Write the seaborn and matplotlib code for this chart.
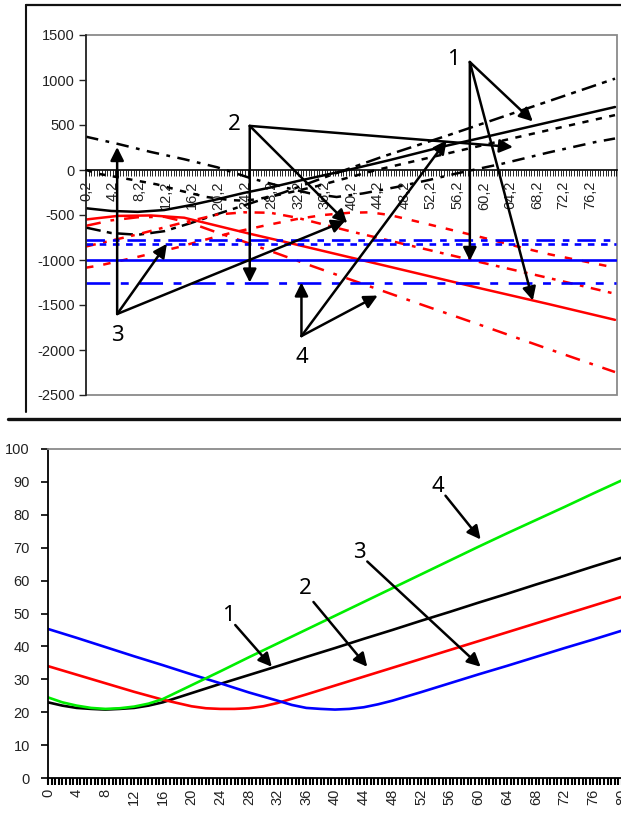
import numpy as np
import pandas as pd
import matplotlib
matplotlib.use("Agg")
import matplotlib.pyplot as plt
import seaborn as sns
from matplotlib.lines import Line2D
from matplotlib.patches import Rectangle
from matplotlib.ticker import FixedLocator, MultipleLocator

# ---------------- upper panel data ----------------
k1_x = [0.2, 5, 10, 15, 20, 25, 30, 34, 38, 42, 47, 52, 56, 63, 70, 77, 80]
k1_y = [370, 290, 200, 120, 30, -90, -190, -260, -300, -260, -190, -110, -40, 70, 195, 310, 350]

k2_x = [0.2, 4, 8, 12, 16, 20, 25, 30, 37, 45, 55, 65, 80]
k2_y = [-640, -700, -720, -680, -590, -490, -370, -250, -60, 150, 390, 640, 1015]

k3_x = [0.2, 2.3, 6.5, 10.9, 14.7, 18.4, 22, 24, 26, 30, 35, 44, 54.5, 65, 80]
k3_y = [0, -45, -100, -160, -235, -300, -335, -340, -325, -265, -180, 0, 180, 360, 610]

k4_x = [0.2, 4, 8, 12, 16, 20, 24, 28, 32, 36, 40, 46, 54.6, 60, 70, 80]
k4_y = [-425, -455, -465, -445, -390, -325, -255, -195, -125, -60, 5, 110, 270, 360, 530, 700]

r1_x = [0.2, 5, 10, 15, 20, 25, 30, 40, 50, 60, 70, 80]
r1_y = [-550, -510, -505, -530, -620, -710, -795, -970, -1145, -1320, -1490, -1665]

r2_x = [0.2, 2.3, 8.3, 14, 17.4, 22, 27, 32, 36, 40, 43, 46, 50, 55, 60, 65, 70, 75, 80]
r2_y = [-1085, -1060, -960, -860, -790, -700, -620, -545, -500, -475, -470, -500, -570, -660,
        -750, -845, -935, -1010, -1085]

r3_x = [0.2, 8, 14, 20, 24, 28, 32, 40, 50, 60, 70, 80]
r3_y = [-850, -715, -600, -495, -470, -475, -530, -680, -855, -1030, -1200, -1375]

r4_x = [0.2, 4, 8, 12, 16, 20, 24, 28, 34.4, 40, 50, 60, 70, 80]
r4_y = [-620, -560, -525, -520, -590, -695, -795, -900, -1070, -1215, -1475, -1730, -1990, -2245]

blue_levels = [-775, -820, -1000, -1250]
top_x_span = [0.2, 80.2]

top_tick_values = [0.2, 4.2, 8.2, 12.2, 16.2, 20.2, 24.2, 28.2, 32.2, 36.2, 40.2,
                   44.2, 48.2, 52.2, 56.2, 60.2, 64.2, 68.2, 72.2, 76.2]
top_tick_labels = ["0,2", "4,2", "8,2", "12,2", "16,2", "20,2", "24,2", "28,2", "32,2", "36,2",
                   "40,2", "44,2", "48,2", "52,2", "56,2", "60,2", "64,2", "68,2", "72,2", "76,2"]
top_y_ticks = [1500, 1000, 500, 0, -500, -1000, -1500, -2000, -2500]

# ---------------- lower panel data ----------------
black_x = [0, 2, 4, 6, 8, 10, 12, 14, 16, 20, 24, 28, 32, 36, 40, 44, 48, 52, 56, 60, 64, 68, 72, 76, 80]
black_y = [23, 22, 21.3, 21, 20.8, 21, 21.3, 22, 23, 25.8, 28.6, 31.3, 34, 36.8, 39.5, 42.3, 45,
           47.8, 50.5, 53.3, 56, 58.8, 61.5, 64.3, 67]

green_x = [0, 2, 4, 6, 8, 10, 12, 14, 16, 20, 24, 28, 32, 36, 40, 44, 48, 52, 56, 60, 64, 68, 72, 76, 80]
green_y = [24.5, 23, 22, 21.3, 21, 21.2, 21.7, 22.6, 24, 28.2, 32.4, 36.7, 40.9, 45.1, 49.3, 53.5,
           57.7, 61.9, 66.1, 70.3, 74.4, 78.4, 82.4, 86.5, 90.5]

red_x = [0, 4, 8, 12, 16, 20, 22, 24, 26, 28, 30, 32, 36, 40, 44, 48, 52, 56, 60, 64, 68, 72, 76, 80]
red_y = [34, 31.4, 28.8, 26.2, 23.8, 21.8, 21.2, 21, 21, 21.2, 21.8, 22.8, 25.4, 28.1, 30.8, 33.5,
         36.2, 38.9, 41.6, 44.3, 47, 49.7, 52.4, 55.1]

blue_x = [0, 4, 8, 12, 16, 20, 24, 28, 32, 34, 36, 38, 40, 42, 44, 46, 48, 52, 56, 60, 64, 68, 72, 76, 80]
blue_y = [45.3, 42.6, 39.8, 37, 34.3, 31.5, 28.8, 26, 23.5, 22.2, 21.3, 21, 20.8, 21, 21.5, 22.4,
          23.5, 26.1, 28.8, 31.5, 34.1, 36.8, 39.5, 42.1, 44.8]

bottom_x_ticks = list(range(0, 81, 4))
bottom_y_ticks = list(range(0, 101, 10))

# ---------------- styling ----------------
sns.set_theme(style="white")
plt.rcParams["font.family"] = ["Liberation Sans", "DejaVu Sans"]
plt.rcParams["axes.linewidth"] = 1.0

NUM_FONT = ["Noto Sans", "DejaVu Sans"]
TICK_FS = 10.5
GRAY = "#8a8a8a"

fig = plt.figure(figsize=(6.21, 8.14), dpi=100, facecolor="white")
W, H = 621.0, 814.0


def fig_rect(x0, y0, x1, y1):
    return [x0 / W, 1 - y1 / H, (x1 - x0) / W, (y1 - y0) / H]


# outer frame around the upper panel
fig.add_artist(Line2D([26 / W, 1.0], [1 - 5 / H, 1 - 5 / H], color="#111111", lw=1.6))
fig.add_artist(Line2D([26 / W, 26 / W], [1 - 5 / H, 1 - 412 / H], color="#111111", lw=1.5))
fig.add_artist(Line2D([8 / W, 1.0], [1 - 419 / H, 1 - 419 / H], color="#111111", lw=2.4))

# ================= upper panel =================
ax = fig.add_axes(fig_rect(86, 35, 617, 395))
ax.set_facecolor("white")

series_top = [
    (k1_x, k1_y, "black", (0, (5, 3, 1.5, 3))),
    (k2_x, k2_y, "black", (0, (6, 2.5, 2, 2.5))),
    (k3_x, k3_y, "black", (0, (2.5, 3))),
    (k4_x, k4_y, "black", "-"),
    (r1_x, r1_y, "#ff0000", "-"),
    (r2_x, r2_y, "#ff0000", (0, (3, 4))),
    (r3_x, r3_y, "#ff0000", (0, (4, 3, 1.5, 3))),
    (r4_x, r4_y, "#ff0000", (0, (6, 4, 1.5, 4))),
]
for xs, ys, col, ls in series_top:
    df = pd.DataFrame({"x": xs, "y": ys})
    sns.lineplot(data=df, x="x", y="y", ax=ax, color=col, lw=1.8, linestyle=ls, sort=False)

blue_styles = [(0, (7, 3, 2.5, 3)), (0, (2.5, 2.5)), "-", (0, (9, 4, 3, 4))]
for level, ls in zip(blue_levels, blue_styles):
    df = pd.DataFrame({"x": top_x_span, "y": [level, level]})
    sns.lineplot(data=df, x="x", y="y", ax=ax, color="#0000ff", lw=1.9, linestyle=ls)

ax.set_xlim(0.2, 80.3)
ax.set_ylim(-2500, 1500)
ax.set_xlabel("")
ax.set_ylabel("")

ax.spines["bottom"].set_position(("data", 0))
ax.spines["bottom"].set_color("black")
ax.spines["bottom"].set_linewidth(1.2)
ax.spines["left"].set_color("#222222")
ax.spines["left"].set_linewidth(1.2)
for s in ("top", "right"):
    ax.spines[s].set_visible(False)
ax.add_patch(Rectangle((0, 0), 1, 1, transform=ax.transAxes, fill=False,
                       ec=GRAY, lw=1.3, zorder=0.5, clip_on=False))

ax.set_xticks(top_tick_values)
ax.set_xticklabels(top_tick_labels, rotation=90, fontsize=TICK_FS, color="#222222")
ax.xaxis.set_minor_locator(FixedLocator(np.arange(0.2, 80.3, 0.4)))
ax.tick_params(axis="x", which="both", direction="out", length=4, width=0.6,
               color="black", bottom=True, pad=4)
ax.set_yticks(top_y_ticks)
ax.set_yticklabels([str(v) for v in top_y_ticks], fontsize=TICK_FS, color="#222222")
ax.tick_params(axis="y", which="major", direction="out", length=5, width=1.0,
               color="#222222", left=True, pad=3)

arrow_kw = dict(arrowstyle="-|>", color="black", lw=1.8, mutation_scale=20,
                shrinkA=0, shrinkB=0)


def fan(axis, label, label_xy, origin, targets):
    axis.text(label_xy[0], label_xy[1], label, fontsize=16, family=NUM_FONT,
              ha="center", va="center", color="black", zorder=10)
    for t in targets:
        axis.annotate("", xy=t, xytext=origin, arrowprops=arrow_kw, zorder=10,
                      annotation_clip=False)


fan(ax, "1", (55.6, 1230), (58.1, 1200), [(67.6, 540), (58.1, -1010), (67.6, -1450)])
fan(ax, "2", (22.5, 510), (24.9, 490), [(64.6, 255), (24.9, -1250), (39.6, -590)])
fan(ax, "3", (4.9, -1840), (4.9, -1600), [(4.9, 255), (12.4, -820), (39.3, -565)])
fan(ax, "4", (32.7, -2080), (32.7, -1845), [(32.7, -1250), (44.2, -1395), (54.6, 330)])

# ================= lower panel =================
ax2 = fig.add_axes(fig_rect(48, 449, 622, 778))
ax2.set_facecolor("white")

series_bottom = [
    (black_x, black_y, "black"),
    (red_x, red_y, "#ff0000"),
    (blue_x, blue_y, "#0000ff"),
    (green_x, green_y, "#00ee00"),
]
for xs, ys, col in series_bottom:
    df = pd.DataFrame({"x": xs, "y": ys})
    sns.lineplot(data=df, x="x", y="y", ax=ax2, color=col, lw=1.9, sort=False)

ax2.set_xlim(0, 80)
ax2.set_ylim(0, 100)
ax2.set_xlabel("")
ax2.set_ylabel("")
ax2.spines["left"].set_color("black")
ax2.spines["left"].set_linewidth(1.3)
ax2.spines["bottom"].set_color("black")
ax2.spines["bottom"].set_linewidth(1.3)
ax2.spines["top"].set_color(GRAY)
ax2.spines["top"].set_linewidth(1.3)
ax2.spines["right"].set_visible(False)

ax2.set_xticks(bottom_x_ticks)
ax2.set_xticklabels([str(v) for v in bottom_x_ticks], rotation=90, fontsize=TICK_FS, color="#222222")
ax2.xaxis.set_minor_locator(MultipleLocator(0.5))
ax2.tick_params(axis="x", which="both", direction="out", length=5, width=1.5,
                color="black", bottom=True, pad=3)
ax2.set_yticks(bottom_y_ticks)
ax2.set_yticklabels([str(v) for v in bottom_y_ticks], fontsize=TICK_FS, color="#222222")
ax2.tick_params(axis="y", which="major", direction="out", length=5, width=1.2,
                color="black", left=True, pad=8)

fan(ax2, "1", (25.1, 49.5), (26.1, 46.5), [(31.2, 33.8)])
fan(ax2, "2", (35.8, 57.5), (37.0, 53.5), [(44.5, 33.8)])
fan(ax2, "3", (43.4, 68.5), (44.5, 65.8), [(60.3, 33.8)])
fan(ax2, "4", (54.3, 88.5), (55.4, 85.8), [(60.3, 72.5)])

fig.savefig("out.png", dpi=100, facecolor="white")
